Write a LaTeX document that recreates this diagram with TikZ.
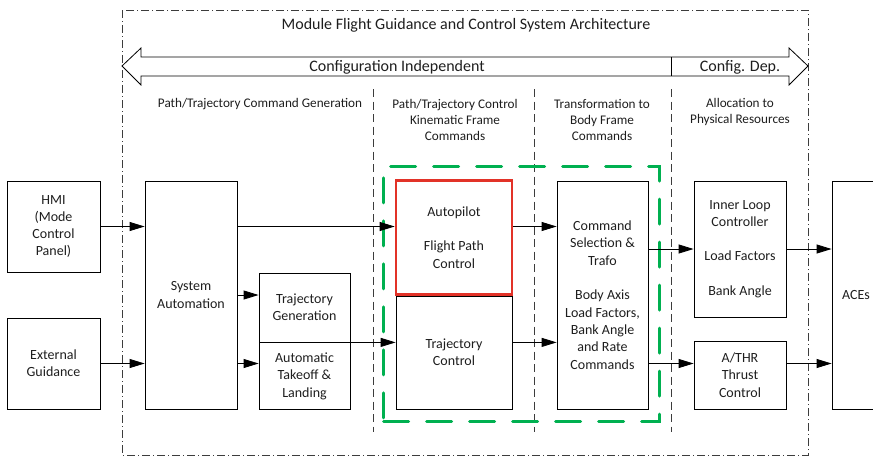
\documentclass[tikz,border=0pt]{standalone}
\usepackage{fontspec}
\setmainfont{Carlito}
\usepackage{xcolor}
\usetikzlibrary{arrows.meta,positioning,fit}
\definecolor{apred}{RGB}{226,50,40}
\definecolor{fgreen}{RGB}{0,176,80}
\definecolor{divgray}{RGB}{60,60,60}
\definecolor{inkgray}{RGB}{30,30,30}

\begin{document}
\begin{tikzpicture}[
  x=1pt, y=-1pt, text=inkgray,
  font=\fontsize{14}{17.3}\selectfont,
  box/.style={draw, line width=0.8pt, align=center, inner sep=0pt},
  arr/.style={-{Triangle[length=15pt,width=9pt]}, line width=0.8pt},
  hdr/.style={align=center, font=\fontsize{13.2}{16}\selectfont},
  big/.style={font=\fontsize{16}{19}\selectfont},
  divider/.style={line width=0.7pt, divgray, dash pattern=on 8pt off 4.5pt},
  frame/.style={line width=0.7pt, divgray, dash pattern=on 8pt off 3pt on 1pt off 3pt}
]
  \useasboundingbox (0,0) rectangle (873,456);

  % module frame, scope arrow and column dividers
  \draw[frame] (122,10) rectangle (808,455);
  \node[big] (title) at (466,25) {Module Flight Guidance and Control System Architecture};
  \draw[line width=0.8pt] (122,66) -- (141,48) -- (141,57) -- (789,57) -- (789,48) -- (808,66)
    -- (789,85) -- (789,76) -- (141,76) -- (141,85) -- cycle;
  \draw[line width=0.8pt] (671,57) -- (671,76);
  \node[big] (cfgind) at (397,67) {Configuration Independent};
  \node[big] (cfgdep) at (740,67) {Config. Dep.};
  \foreach \x in {373,534,671}
    \draw[divider] (\x,89) -- (\x,432);

  \node[hdr] (hcmdgen) at (260,104) {Path/Trajectory Command Generation};
  \node[hdr] (hkin)    at (455,120) {Path/Trajectory Control\\Kinematic Frame\\Commands};
  \node[hdr] (hbody)   at (602,120) {Transformation to\\Body Frame\\Commands};
  \node[hdr] (halloc)  at (740,112) {Allocation to\\Physical Resources};

  % blocks
  \node[box, minimum width=93pt, minimum height=91pt]  (hmi)     at (53.5,226.5) {HMI\\(Mode\\Control\\Panel)};
  \node[box, minimum width=93pt, minimum height=91pt]  (ext)     at (53.5,363.5) {External\\Guidance};
  \node[box, minimum width=92pt, minimum height=228pt] (sysauto) at (191,295) {System\\Automation};
  \node[box, minimum width=91pt, minimum height=69pt]  (trajgen) at (304.5,307.5) {Trajectory\\Generation};
  \node[box, minimum width=91pt, minimum height=67pt, below=0pt of trajgen] (atol) {Automatic\\Takeoff \&\\Landing};
  \node[box, minimum width=116pt, minimum height=113pt] (trajctl) at (454,352.5) {Trajectory\\Control};
  \node[box, draw=apred, line width=2.7pt, minimum width=116pt, minimum height=114pt, above=0pt of trajctl] (autopilot)
    {Autopilot\\[17.3pt]Flight Path\\Control};
  \node[box, minimum width=91pt, minimum height=228pt] (cmd) at (602.5,295)
    {Command\\Selection \&\\Trafo\\[17.3pt]Body Axis\\Load Factors,\\Bank Angle\\and Rate\\Commands};
  \node[box, minimum width=92pt, minimum height=136pt] (inner) at (740,249)
    {Inner Loop\\Controller\\[17.3pt]Load Factors\\[17.3pt]Bank Angle};
  \node[box, minimum width=92pt, minimum height=68pt]  (athr) at (740,375) {A/THR\\Thrust\\Control};
  \node[box, minimum width=48pt, minimum height=228pt] (aces) at (856,295) {ACEs};

  \node[draw=fgreen, line width=3pt, line cap=round, dash pattern=on 25pt off 18pt, inner xsep=11pt, inner ysep=12pt,
    fit=(autopilot)(trajctl)(cmd)] (ctlgroup) {};

  % signal flow
  \foreach \a/\b in {
    (hmi.east)/(sysauto.west |- hmi.east),
    (ext.east)/(sysauto.west |- ext.east),
    (sysauto.east)/(trajgen.west |- sysauto.east),
    (sysauto.east |- ext.east)/(atol.west |- ext.east),
    (sysauto.east |- hmi.east)/(autopilot.west |- hmi.east),
    (trajgen.south east)/(trajctl.west |- trajgen.south east),
    (autopilot.east |- hmi.east)/(cmd.west |- hmi.east),
    (trajctl.east |- trajgen.south east)/(cmd.west |- trajgen.south east),
    (cmd.east |- inner.west)/(inner.west),
    (cmd.east |- ext.east)/(athr.west |- ext.east),
    (inner.east)/(aces.west |- inner.east),
    (athr.east |- ext.east)/(aces.west |- ext.east)
  }{
    \draw[arr] \a -- \b;
  }
\end{tikzpicture}
\end{document}
